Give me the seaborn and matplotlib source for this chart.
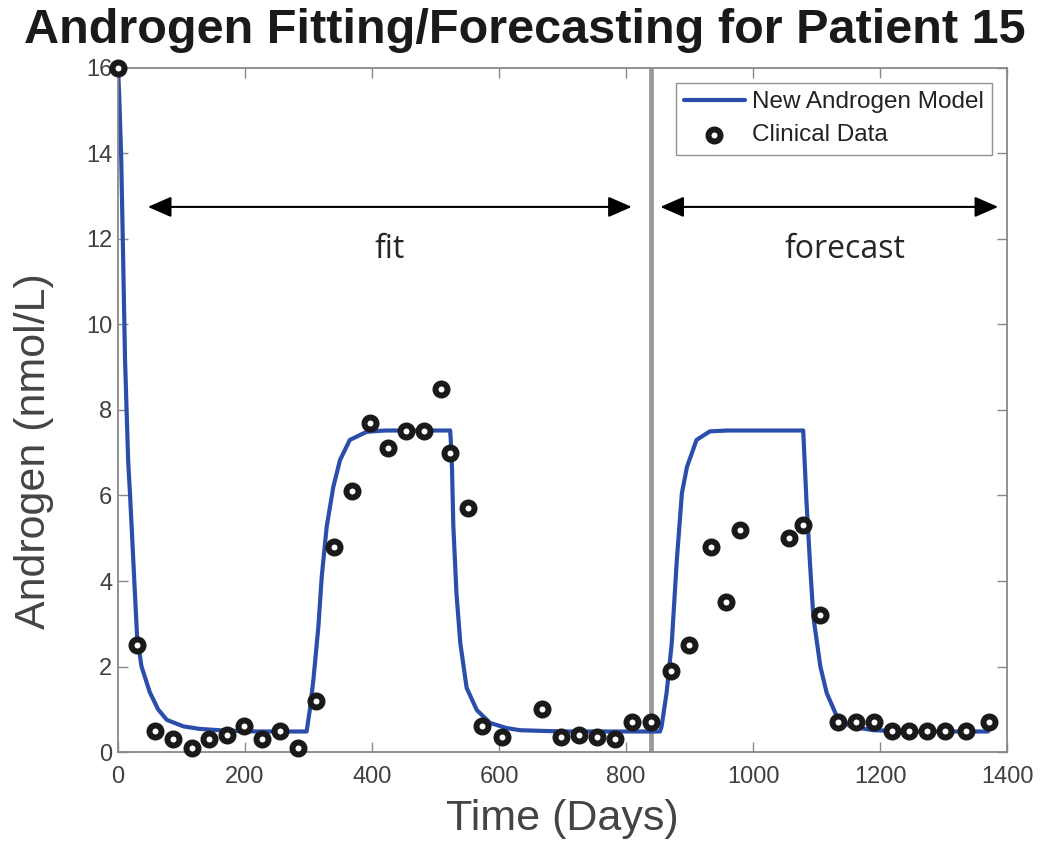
import numpy as np
import pandas as pd
import seaborn as sns
import matplotlib.pyplot as plt

# clinical measurements (days, nmol/L)
data_days = [0, 30, 58, 87, 116, 143, 172, 198, 227, 255, 283, 312, 340, 369, 397,
             425, 454, 482, 509, 523, 551, 573, 605, 668, 698, 726, 754, 783, 809, 839,
             871, 899, 934, 957, 979, 1056, 1079, 1106, 1134, 1162, 1190, 1219, 1246,
             1274, 1302, 1335, 1372]
data_androgen = [16.0, 2.5, 0.5, 0.3, 0.1, 0.3, 0.4, 0.6, 0.3, 0.5, 0.1, 1.2, 4.8, 6.1, 7.7,
                 7.1, 7.5, 7.5, 8.5, 7.0, 5.7, 0.6, 0.35, 1.0, 0.35, 0.4, 0.35, 0.3, 0.7, 0.7,
                 1.9, 2.5, 4.8, 3.5, 5.2, 5.0, 5.3, 3.2, 0.7, 0.7, 0.7, 0.5, 0.5,
                 0.5, 0.5, 0.5, 0.7]

# model curve, sampled along the drawn line
model_days = [0, 2, 5, 7.5, 11, 16, 19, 24, 30, 37, 50, 63, 77, 103, 129, 170, 220,
              297, 302, 307.6, 315.5, 320.8, 328.6, 339, 349.6, 365, 391.6, 420, 523,
              524, 526, 528, 533, 539, 549, 565, 586, 612, 633, 700, 853.5,
              856, 864, 872, 880, 888, 896, 911, 932, 960, 1079,
              1080, 1084, 1090, 1095, 1106, 1116, 1132, 1153, 1189, 1250, 1370]
model_androgen = [16.0, 15.3, 13.9, 12.0, 9.2, 6.8, 6.0, 4.5, 2.7, 2.0, 1.4, 1.0, 0.75,
                  0.6, 0.54, 0.5, 0.48,
                  0.48, 0.98, 1.68, 2.93, 4.1, 5.27, 6.2, 6.83, 7.3, 7.49, 7.52, 7.52,
                  7.3, 6.6, 5.3, 3.7, 2.55, 1.5, 0.98, 0.68, 0.56, 0.51, 0.48, 0.48,
                  0.6, 1.4, 2.55, 4.5, 6.06, 6.67, 7.3, 7.5, 7.52, 7.52,
                  7.2, 5.9, 4.33, 3.16, 2.0, 1.38, 0.83, 0.6, 0.51, 0.48, 0.48]

split_day = 840
fit_span = (47, 809)
forecast_span = (854, 1386)
arrow_y = 12.75

model = pd.DataFrame({"days": model_days, "androgen": model_androgen})
clinical = pd.DataFrame({"days": data_days, "androgen": data_androgen})

sns.set_style("white")
plt.rcParams["font.family"] = ["Liberation Sans", "DejaVu Sans"]

fig = plt.figure(figsize=(10.5, 8.57), dpi=100)
ax = fig.add_axes([0.1124, 0.1225, 0.8467, 0.7982])

ax.axvline(split_day, color="#999999", lw=3.5, zorder=1)
sns.lineplot(data=model, x="days", y="androgen", ax=ax, color="#2b4eab", lw=3,
             label="New Androgen Model", zorder=2)
sns.scatterplot(data=clinical, x="days", y="androgen", ax=ax, s=75, facecolor="white",
                edgecolor="#1a1a1a", linewidth=4.3, label="Clinical Data",
                clip_on=False, zorder=3)

for (a, b) in [fit_span, forecast_span]:
    ax.annotate("", xy=(a, arrow_y), xytext=(b, arrow_y),
                arrowprops=dict(arrowstyle="<|-|>,head_length=0.8,head_width=0.35",
                                color="black", lw=1.5, mutation_scale=18,
                                shrinkA=0, shrinkB=0))
ax.text(428, 11.75, "fit", fontsize=23, ha="center", va="center", family="Open Sans")
ax.text(1145, 11.75, "forecast", fontsize=23, ha="center", va="center", family="Open Sans")

ax.set_xlim(0, 1400)
ax.set_ylim(0, 16)
ax.set_xticks(range(0, 1401, 200))
ax.set_yticks(range(0, 17, 2))
ax.tick_params(direction="in", length=7, width=1, colors="#888888", labelcolor="#404040",
               labelsize=17, top=True, right=True, bottom=True, left=True)
ax.tick_params(axis="x", pad=10)
ax.tick_params(axis="y", pad=4)
for s in ax.spines.values():
    s.set_visible(True)
    s.set_color("#888888")
    s.set_linewidth(1.3)

ax.set_xlabel("Time (Days)", fontsize=31, color="#444444", labelpad=8)
ax.set_ylabel("Androgen (nmol/L)", fontsize=31, color="#444444")
ax.yaxis.set_label_coords(-0.072, 0.44)
ax.set_title("Androgen Fitting/Forecasting for Patient 15", fontsize=35,
             fontweight="bold", color="#1a1a1a", pad=18, x=0.458)

leg = ax.legend(loc="upper right", fontsize=17.5, frameon=True, fancybox=False,
                edgecolor="#777777", borderaxespad=0.6, handlelength=2.5,
                handletextpad=0.3, borderpad=0.35, labelspacing=0.45)
leg.get_frame().set_linewidth(1)
for t in leg.get_texts():
    t.set_color("#222222")

fig.savefig("out.png", dpi=100)
